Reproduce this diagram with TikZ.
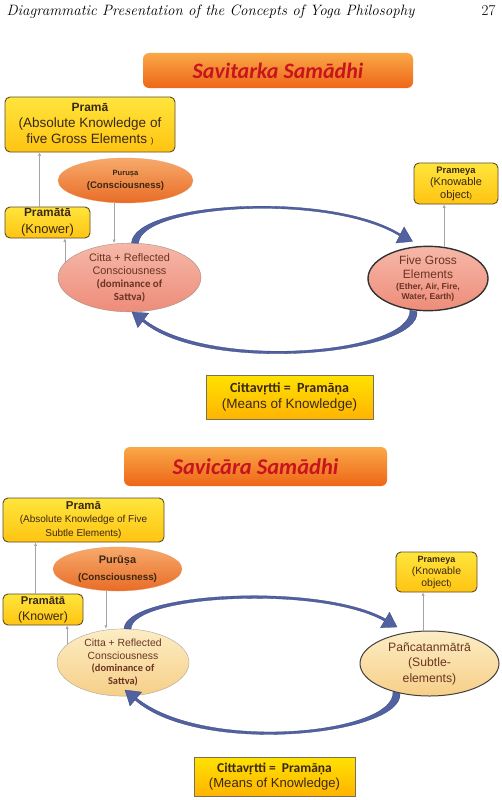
\documentclass[tikz,border=0pt]{standalone}
\usepackage{fontspec}
\newfontfamily\arialfont{Liberation Sans}
\newfontfamily\calfont{Carlito}
\usetikzlibrary{arrows.meta,calc,shapes.geometric}
\definecolor{cInk}{HTML}{3A2816}
\definecolor{cEdge}{HTML}{5B4B2B}
\definecolor{cYelTop}{HTML}{FFE53C}
\definecolor{cYelBot}{HTML}{FFC412}
\definecolor{cGoldTop}{HTML}{FFE200}
\definecolor{cGoldBot}{HTML}{FFB400}
\definecolor{cTitTop}{HTML}{F9A848}
\definecolor{cTitBot}{HTML}{EE6618}
\definecolor{cTitle}{HTML}{C8141E}
\definecolor{cPuruTop}{HTML}{F7AA6C}
\definecolor{cPuruBot}{HTML}{E86C26}
\definecolor{cSalTop}{HTML}{F6B8A8}
\definecolor{cSalBot}{HTML}{EE8C7A}
\definecolor{cCreamTop}{HTML}{FCEDC4}
\definecolor{cCreamBot}{HTML}{F6CF88}
\definecolor{cCittaInk}{HTML}{6A3422}
\definecolor{cLink}{HTML}{A4A4A4}
\definecolor{cArc}{HTML}{5261A0}
\definecolor{cArcEdge}{HTML}{3A4880}
\tikzset{
  yelbox/.style={rounded corners=5pt,draw=cEdge,line width=0.9pt,top color=cYelTop,
                 bottom color=cYelBot,align=center,inner sep=0pt,text=cInk},
  goldbox/.style={draw=cEdge!80,line width=0.8pt,top color=cGoldTop,bottom color=cGoldBot,
                  align=center,inner sep=0pt,text=cInk},
  titlebox/.style={rounded corners=6pt,top color=cTitTop,bottom color=cTitBot,inner sep=0pt,
                   text=cTitle},
  purusa/.style={ellipse,top color=cPuruTop,bottom color=cPuruBot,draw=cPuruBot!70,
                 line width=0.3pt,inner sep=0pt,align=center,text=cInk},
  salell/.style={ellipse,top color=cSalTop,bottom color=cSalBot,inner sep=0pt,align=center,
                 text=cCittaInk},
  creamell/.style={ellipse,top color=cCreamTop,bottom color=cCreamBot,inner sep=0pt,align=center,
                   text=cCittaInk},
  link/.style={-{Latex[length=3.4pt,width=3pt]},draw=cLink,line width=0.5pt},
  cyclearc/.style={fill=cArc,draw=cArcEdge,line width=0.3pt}
}

\begin{document}
\begin{tikzpicture}[x=1pt,y=-1pt]
  \fill[white] (0,0) rectangle (502,800);
  \useasboundingbox (0,0) rectangle (502,800);

  \node[anchor=base west,font=\itshape\fontsize{15}{18}\selectfont] (header) at (3,16)
    {Diagrammatic Presentation of the Concepts of Yoga Philosophy};
  \node[anchor=base east,font=\fontsize{15}{18}\selectfont] (pageno) at (499,16) {27};

  % Savitarka
  \node[titlebox,minimum width=270pt,minimum height=35pt,
        font=\calfont\bfseries\itshape\fontsize{22}{25}\selectfont]
    (title1) at (278,70.5) {Savitarka Samādhi};
  \node[yelbox,minimum width=170pt,minimum height=55pt,
        font=\arialfont\fontsize{13.5}{16}\selectfont] (prama1) at (90,124.5)
    {{\bfseries\fontsize{12}{14}\selectfont Pramā}\\(Absolute Knowledge of\\five Gross Elements {\fontsize{8}{9}\selectfont )}};
  \node[purusa,minimum width=135pt,minimum height=45pt,
        font=\arialfont\bfseries\fontsize{9.6}{13}\selectfont] (purusa1) at (125.5,180.5)
    {{\fontsize{7.6}{9}\selectfont Puruṣa}\\(Consciousness)};
  \node[yelbox,minimum width=85pt,minimum height=31pt,
        font=\arialfont\fontsize{13}{17}\selectfont] (pramata1) at (47.5,222.5)
    {{\bfseries\fontsize{11.9}{14}\selectfont Pramātā}\\(Knower)};
  \node[salell,draw=cEdge!60,line width=0.4pt,minimum width=143pt,minimum height=59pt,
        font=\arialfont\fontsize{10.9}{13}\selectfont] (citta1) at (129.5,277.5)
    {Citta + Reflected\\Consciousness\\{\calfont\bfseries(dominance of}\\{\calfont\bfseries Sattva)}};
  \node[salell,draw=black!80,line width=1.4pt,minimum width=120pt,minimum height=59pt,
        font=\arialfont\fontsize{12}{14}\selectfont] (five) at (428,278.5)
    {Five Gross\\Elements\\[-3pt]{\bfseries\fontsize{8.6}{10}\selectfont(Ether, Air, Fire,}\\[-4pt]{\bfseries\fontsize{8.6}{10}\selectfont Water, Earth)}};
  \node[yelbox,minimum width=84pt,minimum height=41pt,
        font=\arialfont\fontsize{11}{12.5}\selectfont] (prameya1) at (456,183.5)
    {{\bfseries\fontsize{9.4}{11}\selectfont Prameya}\\(Knowable\\object{\fontsize{7}{8}\selectfont )}};
  \node[goldbox,minimum width=167pt,minimum height=44pt,
        font=\arialfont\fontsize{13.5}{15.5}\selectfont] (pramana1) at (289.5,397)
    {{\calfont\bfseries\fontsize{14}{15}\selectfont Cittavṛtti =\ \ Pramāṇa}\\(Means of Knowledge)};

  \draw[link] ($(pramata1.north west)+(35,0)$) -- ($(prama1.south west)+(35,0)$);
  \draw[link] (purusa1.243) -- (purusa1.243 |- citta1.north);
  \draw[link] (citta1.167) -- (citta1.167 |- pramata1.south);
  \draw[link] (five.63) -- (five.63 |- prameya1.south);

  \fill[cyclearc] ($(citta1.north)+(2,0)$) .. controls (134,202) and (330,190) .. (400.4,234.1)
    -- (404.1,227) -- (412.5,241.4) -- (395.9,243) -- (399.6,235.9)
    .. controls (330,193) and (141,204) .. ($(citta1.north)+(9,0.3)$) -- cycle;
  \fill[cyclearc] ($(five.south)+(-11,0.3)$) .. controls (421,355) and (205,375) .. (142.5,321.4)
    -- (137.8,327.6) -- (132,312) -- (148.6,313.2) -- (143.9,319.4)
    .. controls (210,371) and (412,354) .. ($(five.south)+(-18,-1.2)$) -- cycle;

  % Savicara
  \node[titlebox,minimum width=263pt,minimum height=39pt,
        font=\calfont\bfseries\itshape\fontsize{22.5}{26}\selectfont]
    (title2) at (255.5,466.5) {Savicāra Samādhi};
  \node[yelbox,minimum width=161pt,minimum height=44pt,
        font=\arialfont\fontsize{10}{13.5}\selectfont] (prama2) at (83.5,520)
    {{\bfseries\fontsize{11.5}{13}\selectfont Pramā}\\(Absolute Knowledge of Five\\Subtle Elements)};
  \node[purusa,minimum width=129pt,minimum height=44pt,
        font=\arialfont\bfseries\fontsize{9.8}{17}\selectfont] (purusa2) at (117.5,569)
    {{\fontsize{11}{13}\selectfont Purūṣa}\\(Consciousness)};
  \node[yelbox,minimum width=80pt,minimum height=31pt,
        font=\arialfont\fontsize{12.3}{16}\selectfont] (pramata2) at (43,609.5)
    {{\bfseries\fontsize{11.2}{13}\selectfont Pramātā}\\(Knower)};
  \node[creamell,draw=cEdge!50,line width=0.4pt,minimum width=132pt,minimum height=57pt,
        font=\arialfont\fontsize{10.4}{12.8}\selectfont] (citta2) at (123,662.5)
    {Citta + Reflected\\Consciousness\\{\calfont\bfseries(dominance of}\\{\calfont\bfseries Sattva)}};
  \node[creamell,draw=black!75,line width=1pt,minimum width=139pt,minimum height=65pt,
        font=\arialfont\fontsize{12.2}{15.5}\selectfont] (panca) at (429.5,663.5)
    {Pañcatanmātrā\\(Subtle-\\elements)};
  \node[yelbox,minimum width=81pt,minimum height=40pt,
        font=\arialfont\fontsize{10.4}{12}\selectfont] (prameya2) at (436.5,572)
    {{\bfseries\fontsize{9}{11}\selectfont Prameya}\\(Knowable\\object{\fontsize{7}{8}\selectfont )}};
  \node[goldbox,minimum width=161pt,minimum height=39pt,
        font=\arialfont\fontsize{13.1}{14.5}\selectfont] (pramana2) at (274.5,776.5)
    {{\calfont\bfseries\fontsize{13.5}{14.5}\selectfont Cittavṛtti =\ \ Pramāṇa}\\(Means of Knowledge)};

  \draw[link] ($(pramata2.north west)+(33,0)$) -- ($(prama2.south west)+(33,0)$);
  \draw[link] (purusa2.242) -- (purusa2.242 |- citta2.north);
  \draw[link] (citta2.162) -- (citta2.162 |- pramata2.south);
  \draw[link] (panca.101) -- (panca.101 |- prameya2.south);

  \fill[cyclearc] ($(citta2.north)+(1,0)$) .. controls (126,592) and (320,582) .. (385.6,619)
    -- (389.5,612.3) -- (397,627) -- (380.5,627.7) -- (384.4,621)
    .. controls (320,585) and (131,595) .. ($(citta2.north)+(8,0.4)$) -- cycle;
  \fill[cyclearc] ($(panca.south)+(-29.5,-3.1)$) .. controls (404,735) and (200,757) .. (135,700)
    -- (130,705.9) -- (125,690) -- (141.6,692.1) -- (136.6,698)
    .. controls (205,753) and (396,734) .. ($(panca.south)+(-36.5,-4.8)$) -- cycle;
\end{tikzpicture}
\end{document}
